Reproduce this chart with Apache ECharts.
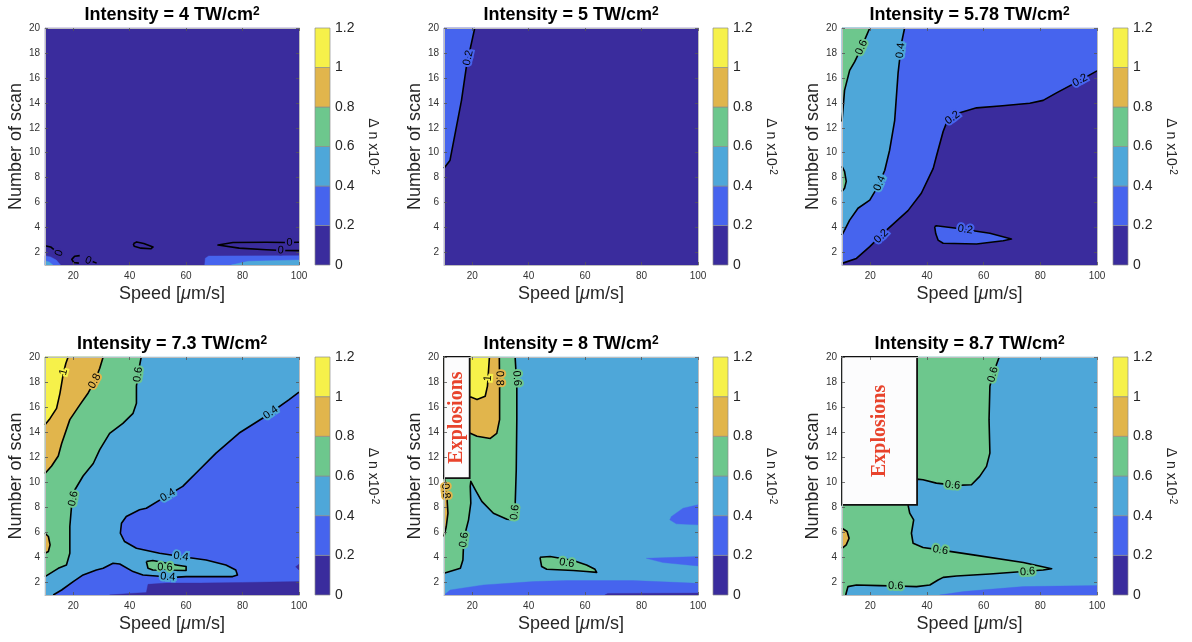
<!DOCTYPE html>
<html><head><meta charset="utf-8">
<script src="https://cdn.jsdelivr.net/npm/echarts@6/dist/echarts.min.js"></script>
<style>html,body{margin:0;padding:0;background:#fff}#c{width:1192px;height:642px}</style>
</head><body><div id="c"></div>
<script>
// ---------- data ----------
const levels = [0, 0.2, 0.4, 0.6, 0.8, 1, 1.2];
const levelLabels = ['0', '0.2', '0.4', '0.6', '0.8', '1', '1.2'];
const intensities = ['4', '5', '5.78', '7.3', '8', '8.7'];
const xTicks = [20, 40, 60, 80, 100];
const yTicks = [2, 4, 6, 8, 10, 12, 14, 16, 18, 20];
const xRange = [10, 100];
const yRange = [1, 20];
const domain = [[10, 1], [100, 1], [100, 20], [10, 20]];

// Panel 1 : 4 TW/cm2
const p1_blueLeft = [[10, 1], [10, 1.75], [12, 1.65], [14, 1.4], [15.5, 1]];
const p1_cyanLeft = [[10, 1], [10, 1.35], [11.5, 1.25], [12.8, 1]];
const p1_blueRight = [[66.6, 1], [66.8, 1.55], [68, 1.72], [100, 1.75], [100, 1]];
const p1_cyanRight = [[76, 1], [82, 1.3], [100, 1.4], [100, 1]];
const p1_c0a = [[10, 2.55], [12, 2.45], [13.6, 2.15], [13.2, 1.9]];
const p1_c0b = [[22.3, 1.75], [20.5, 1.7], [19.5, 1.45], [20.2, 1.2], [22, 1.15]];
const p1_c0c = [[26.6, 1.3], [28.3, 1.15]];
const p1_c0d = [[41.3, 2.7], [42.5, 2.85], [45, 2.72], [48.3, 2.45], [47.5, 2.3], [44, 2.35], [41.6, 2.5], [41.3, 2.7]];
const p1_c0e = [[100, 2.82], [95, 2.8], [88.4, 2.82], [76.6, 2.8], [71.3, 2.6], [78.8, 2.35], [88.4, 2.22], [94, 2.16], [100, 2.15]];
const p1_labels = [[15, 1.95, '0'], [25.3, 1.35, '0'], [96.6, 2.8, '0'], [93.5, 2.17, '0']];

// Panel 2 : 5 TW/cm2
const p2_c02 = [[10, 8.75], [12.1, 9.37], [16.2, 14.2], [18, 17], [20.9, 20]];
const p2_labels = [[18.55, 17.6, '0.2']];

// Panel 3 : 5.78 TW/cm2
const p3_c02 = [[10, 1.13], [15.1, 1.53], [19.8, 2.47], [25.7, 3.8], [33.3, 5.36], [38, 6.75], [42.2, 8.75], [43.3, 9.7], [45.7, 11.7], [46.9, 12.4], [51.6, 13.2], [57.5, 13.6], [65.7, 13.75], [76.3, 13.97], [81, 14.2], [85.7, 14.8], [94, 15.8], [100, 16.56]];
const p3_c02island = [[42.7, 4.07], [43.1, 3.5], [43.9, 3.0], [45.7, 2.74], [57.5, 2.68], [66.9, 2.95], [69.8, 3.08], [62.2, 3.54], [50.4, 3.94], [43.3, 4.15], [42.7, 4.07]];
const p3_c04 = [[10, 3.4], [12.7, 4.6], [15.65, 5.55], [19.8, 6.2], [22.7, 7.3], [25.1, 8.6], [26.8, 10.2], [28.6, 12.6], [29.8, 16.4], [31, 18.8], [32.1, 20]];
const p3_c06 = [[10, 12.5], [10.9, 15], [12.7, 16.6], [14.5, 17.3], [16.2, 18.1], [18, 19.05], [19.8, 20]];
const p3_c06small = [[10, 8.9], [10.9, 8.5], [11.5, 7.7], [10.9, 7.15], [10, 6.9]];
const p3_labels = [[16.9, 18.45, '0.6'], [30.7, 18.2, '0.4'], [23.3, 7.55, '0.4'], [23.9, 3.3, '0.2'], [49, 12.8, '0.2'], [94, 15.8, '0.2'], [53.5, 3.84, '0.2']];

// Panel 4 : 7.3 TW/cm2
const p4_c1 = [[10, 14.6], [11.8, 15.1], [14.1, 15.9], [15.3, 17.1], [16.5, 18.7], [17.4, 19.5], [18.2, 20]];
const p4_c08 = [[10, 10.7], [12.35, 11.3], [14.7, 12.1], [15.9, 13.1], [18.8, 15], [22.4, 16.2], [25.3, 17.13], [27.6, 18.07], [29.4, 19.1], [30.6, 20]];
const p4_c08small = [[10, 5.93], [11.2, 5.67], [11.8, 5.0], [11.2, 4.47], [10, 4.33]];
const p4_c06 = [[10, 2.47], [14.7, 3.13], [17.6, 3.4], [18.8, 4.33], [18.8, 6.47], [19.4, 8.07], [20.6, 9.4], [23.5, 10.5], [27.1, 11.5], [29.4, 12.6], [32.9, 13.9], [37.6, 14.7], [41.2, 15.5], [42.4, 16.3], [42.4, 17.7], [43.5, 19.3], [44.1, 20]];
const p4_c04 = [[100, 17.19], [96.5, 16.6], [88.2, 15.27], [78.8, 13.93], [70.6, 12.33], [64.7, 11], [58.8, 9.67], [51.8, 8.73], [45.9, 7.93], [43.5, 7.8], [38.8, 7.27], [37.1, 6.73], [36.7, 5.93], [38.2, 5.27], [42.4, 4.73], [50.6, 4.33], [60, 4.01], [67.1, 3.8], [74.1, 3.4], [77.6, 3.0], [78.2, 2.6], [76.5, 2.47], [69.4, 2.47], [60, 2.47], [55.3, 2.41], [49.4, 2.52], [44.7, 2.6], [41.2, 2.87], [36.5, 3.48], [34.1, 3.53], [30.6, 3.13], [28.2, 3.0], [23.5, 2.6], [20, 2.07], [15.9, 1.4], [12.9, 1]];
const p4_c06island = [[45.9, 3.67], [46.5, 3.13], [48.2, 3.0], [60, 2.95], [60, 3.27], [56.5, 3.4], [48.2, 3.75], [45.9, 3.67]];
const p4_darkBottom = [[32.9, 1], [40, 1.12], [45.9, 1.19], [46.5, 1.85], [52.9, 1.95], [64.7, 1.95], [80, 2.0], [100, 2.07], [100, 1]];
const p4_darkRight = [[100, 3.45], [98.8, 3.25], [100, 3.0]];
const p4_labels = [[16.6, 18.8, '1'], [27.6, 18.07, '0.8'], [43, 18.6, '0.6'], [20, 8.7, '0.6'], [53.5, 8.96, '0.4'], [90, 15.56, '0.4'], [58.2, 4.07, '0.4'], [52.5, 3.2, '0.6'], [53.5, 2.44, '0.4']];

// Panel 5 : 8 TW/cm2
const p5_c1 = [[10, 16.9], [19.5, 16.8], [21.7, 16.6], [24.6, 16.87], [25.4, 17.67], [25.8, 19], [26.1, 20]];
const p5_c08 = [[10, 13.9], [19.5, 13.9], [21.7, 13.67], [26.4, 13.5], [28.7, 13.9], [29.7, 15], [29.7, 17.67], [29.6, 20]];
const p5_c08small = [[10, 10.6], [11.1, 8.6], [11.4, 7.53], [10.8, 6.47], [10, 5.67]];
const p5_c06 = [[10, 2.73], [15.8, 3.13], [16.7, 3.8], [16.9, 4.87], [17.5, 5.93], [18.7, 7], [19.5, 8.33], [19.3, 9.67], [19.5, 10.07], [21.1, 9.4], [23.4, 8.47], [27.5, 7.53], [32.3, 7.05], [34.6, 7], [35.2, 8.07], [35.6, 11], [35.8, 15], [35.8, 17.67], [35.2, 20]];
const p5_c06island = [[44, 4.01], [44.6, 3.27], [46.4, 3.05], [55.8, 2.95], [60.5, 2.87], [64.1, 2.81], [63.5, 3.05], [60.5, 3.4], [55.8, 3.75], [47.6, 4.07], [44, 4.01]];
const p5_blueBottom = [[10, 1], [12.2, 1.4], [24, 1.8], [41.7, 2.07], [53.5, 2.15], [77, 2.15], [100, 1.93], [100, 1]];
const p5_blueRight1 = [[100, 8.2], [94.7, 7.93], [90.6, 7.27], [90, 7], [92.3, 6.68], [100, 6.6]];
const p5_blueRight2 = [[100, 4.07], [81.7, 3.93], [87.6, 3.59], [100, 3.32]];
const p5_darkBottom = [[67, 1], [68, 1.12], [100, 1.15], [100, 1]];
const p5_box = [10, 20, 19.1, 10.33];
const p5_labels = [[25.6, 18.3, '1'], [29.7, 18.3, '0.8'], [35.8, 18.3, '0.6'], [10.6, 9.3, '0.8'], [35.1, 7.6, '0.6'], [17.1, 5.4, '0.6'], [53.5, 3.55, '0.6']];

// Panel 6 : 8.7 TW/cm2
const p6_c06 = [[65.5, 20], [63.4, 18.7], [62.2, 17.67], [61.9, 15], [62.2, 12.33], [61, 11.27], [58.6, 10.47], [55.7, 9.8], [50.4, 9.75], [43.3, 9.93], [38.6, 10.2], [36.5, 10.25], [35.5, 9.3], [33.3, 8.2], [33.9, 7.53], [35.3, 7.0], [34.5, 5.93], [35.1, 5.13], [38.6, 4.79], [44.5, 4.6], [56.3, 4.2], [74, 3.59], [84, 3.1], [81, 3.0], [74, 2.87], [62.2, 2.68], [50.4, 2.52], [45.7, 2.41], [43.9, 2.2], [41, 1.8], [36.3, 1.67], [29.2, 1.72], [23.3, 1.75], [15.1, 1.8], [12.1, 1.67], [11.3, 1.0]];
const p6_c08small = [[10, 6.33], [11.8, 6.07], [12.5, 5.53], [11.5, 5.0], [10, 4.73]];
const p6_blueBottom = [[44.5, 1], [52.8, 1.27], [62.2, 1.45], [74, 1.67], [100, 1.75], [100, 1]];
const p6_box = [10, 20, 36.5, 8.2];
const p6_labels = [[63.3, 18.6, '0.6'], [49, 9.77, '0.6'], [44.7, 4.58, '0.6'], [75.5, 2.85, '0.6'], [29, 1.72, '0.6']];

// panels: base level, fills [level, polygon], contour lines, labels, explosion box
const panels = [
  { base: 0, fills: [[1, p1_blueLeft], [2, p1_cyanLeft], [1, p1_blueRight], [2, p1_cyanRight]],
    lines: [p1_c0a, p1_c0b, p1_c0c, p1_c0d, p1_c0e], labels: p1_labels, box: null },
  { base: 0, fills: [[1, p2_c02.concat([[10, 20]])]],
    lines: [p2_c02], labels: p2_labels, box: null },
  { base: 1, fills: [[0, p3_c02.concat([[100, 1], [10, 1]])], [1, p3_c02island], [2, p3_c04.concat([[10, 20]])], [3, p3_c06.concat([[10, 20]])], [3, p3_c06small]],
    lines: [p3_c02, p3_c02island, p3_c04, p3_c06, p3_c06small], labels: p3_labels, box: null },
  { base: 2, fills: [[1, p4_c04.concat([[100, 1]])], [0, p4_darkBottom], [0, p4_darkRight], [3, p4_c06island], [3, p4_c06.concat([[10, 20]])], [4, p4_c08.concat([[10, 20]])], [5, p4_c1.concat([[10, 20]])], [4, p4_c08small]],
    lines: [p4_c04, p4_c06island, p4_c06, p4_c08, p4_c1, p4_c08small], labels: p4_labels, box: null },
  { base: 2, fills: [[1, p5_blueBottom], [0, p5_darkBottom], [1, p5_blueRight1], [1, p5_blueRight2], [3, p5_c06.concat([[10, 20]])], [4, p5_c08.concat([[10, 20]])], [5, p5_c1.concat([[10, 20]])], [4, p5_c08small], [3, p5_c06island]],
    lines: [p5_c06, p5_c08, p5_c1, p5_c08small, p5_c06island], labels: p5_labels, box: p5_box },
  { base: 2, fills: [[1, p6_blueBottom], [3, p6_c06.concat([[10, 1], [10, 20]])], [4, p6_c08small]],
    lines: [p6_c06, p6_c08small], labels: p6_labels, box: p6_box }
];

// ---------- styling / layout ----------
const levelColors = ['#3a2c9d', '#4664ee', '#4ea7d9', '#6dc78d', '#e1b54c', '#f6f14a'];
const font = '"Liberation Sans", Arial, Helvetica, sans-serif';
const cols = [{ l: 45, w: 254, cb: 315 }, { l: 444, w: 254, cb: 713 }, { l: 842, w: 255, cb: 1113 }];
const rows = [{ t: 28, h: 237, tt: 6 }, { t: 357, h: 238, tt: 335 }];
const frame = '#bdbdbd';

const grid = [], xAxis = [], yAxis = [], series = [], title = [];

function segDist(p, a, b) {
  const dx = b[0] - a[0], dy = b[1] - a[1];
  const L = dx * dx + dy * dy;
  let t = L ? ((p[0] - a[0]) * dx + (p[1] - a[1]) * dy) / L : 0;
  t = Math.max(0, Math.min(1, t));
  const qx = a[0] + t * dx, qy = a[1] + t * dy;
  return Math.hypot(p[0] - qx, p[1] - qy);
}

panels.forEach((p, i) => {
  const c = cols[i % 3], r = rows[(i / 3) | 0];
  const gi = grid.length;
  grid.push({ left: c.l, top: r.t, width: c.w, height: r.h });
  const xi = xAxis.length, yi = yAxis.length;
  const tick = { show: true, inside: true, length: 3, lineStyle: { color: '#555', width: 0.8 } };
  const line = { show: true, onZero: false, lineStyle: { color: frame, width: 1 } };
  xAxis.push({
    gridIndex: gi, type: 'value', min: xRange[0], max: xRange[1], position: 'bottom', z: 10,
    axisLine: line, axisTick: Object.assign({}, tick, { customValues: xTicks }),
    axisLabel: { customValues: xTicks, fontSize: 10, color: '#333', margin: 6, fontFamily: font },
    splitLine: { show: false },
    name: 'Speed [{i|μ}m/s]', nameLocation: 'middle', nameGap: 20,
    nameTextStyle: { fontSize: 18, color: '#262626', fontFamily: font,
      rich: { i: { fontSize: 18, fontStyle: 'italic', color: '#262626', fontFamily: font } } }
  });
  xAxis.push({
    gridIndex: gi, type: 'value', min: xRange[0], max: xRange[1], position: 'top', z: 10,
    axisLine: line, axisTick: Object.assign({}, tick, { customValues: xTicks }),
    axisLabel: { show: false }, splitLine: { show: false }
  });
  yAxis.push({
    gridIndex: gi, type: 'value', min: yRange[0], max: yRange[1], position: 'left', z: 10,
    axisLine: line, axisTick: Object.assign({}, tick, { customValues: yTicks }),
    axisLabel: { customValues: yTicks, fontSize: 10, color: '#333', margin: 5, fontFamily: font },
    splitLine: { show: false },
    name: 'Number of scan', nameLocation: 'middle', nameGap: 17,
    nameTextStyle: { fontSize: 18, color: '#262626', fontFamily: font }
  });
  yAxis.push({
    gridIndex: gi, type: 'value', min: yRange[0], max: yRange[1], position: 'right', z: 10,
    axisLine: line, axisTick: Object.assign({}, tick, { customValues: yTicks }),
    axisLabel: { show: false }, splitLine: { show: false }
  });

  title.push({
    text: '{t|Intensity = ' + intensities[i] + ' TW/cm}{s|2}',
    left: c.l + c.w / 2, top: r.tt, textAlign: 'center', padding: 0,
    textStyle: { rich: {
      t: { fontSize: 18, fontWeight: 'bold', color: '#000', fontFamily: font },
      s: { fontSize: 12, fontWeight: 'bold', color: '#000', fontFamily: font, verticalAlign: 'top' }
    } }
  });

  // filled contour regions
  const fills = [[p.base, domain]].concat(p.fills);
  series.push({
    type: 'custom', coordinateSystem: 'cartesian2d', xAxisIndex: xi, yAxisIndex: yi,
    z: 1, silent: true, animation: false,
    data: fills.map((f, k) => [f[1][0][0], f[1][0][1], k]), encode: { x: 0, y: 1 },
    renderItem: (params, api) => {
      const f = fills[params.dataIndex];
      return { type: 'polygon', shape: { points: f[1].map(pt => api.coord(pt)) },
        style: { fill: levelColors[f[0]], stroke: levelColors[f[0]], lineWidth: 0.4 } };
    }
  });
  // contour lines
  series.push({
    type: 'custom', coordinateSystem: 'cartesian2d', xAxisIndex: xi, yAxisIndex: yi,
    z: 3, silent: true, animation: false,
    data: p.lines.map((l, k) => [l[0][0], l[0][1], k]), encode: { x: 0, y: 1 },
    renderItem: (params, api) => {
      const l = p.lines[params.dataIndex];
      return { type: 'polyline', shape: { points: l.map(pt => api.coord(pt)) },
        style: { fill: null, stroke: '#000', lineWidth: 1.6, lineJoin: 'round' } };
    }
  });
  // contour labels
  series.push({
    type: 'custom', coordinateSystem: 'cartesian2d', xAxisIndex: xi, yAxisIndex: yi,
    z: 4, silent: true, animation: false,
    data: p.labels.map(lb => [lb[0], lb[1]]), encode: { x: 0, y: 1 },
    renderItem: (params, api) => {
      const lb = p.labels[params.dataIndex];
      const pt = api.coord([lb[0], lb[1]]);
      let best = Infinity, ang = 0;
      p.lines.forEach(l => {
        const px = l.map(q => api.coord(q));
        for (let k = 0; k < px.length - 1; k++) {
          const d = segDist(pt, px[k], px[k + 1]);
          if (d < best) { best = d; ang = Math.atan2(-(px[k + 1][1] - px[k][1]), px[k + 1][0] - px[k][0]); }
        }
      });
      if (best > 7) ang = 0;
      if (ang > Math.PI / 2) ang -= Math.PI;
      if (ang <= -Math.PI / 2) ang += Math.PI;
      const lvl = Math.min(5, Math.round(parseFloat(lb[2]) / 0.2));
      return { type: 'text', x: pt[0], y: pt[1], rotation: ang,
        style: { text: lb[2], x: 0, y: 0, font: '11px ' + font, fill: '#000', align: 'center', verticalAlign: 'middle',
          stroke: levelColors[lvl], lineWidth: 4 } };
    }
  });
  // explosions box
  if (p.box) {
    const b = p.box;
    series.push({
      type: 'custom', coordinateSystem: 'cartesian2d', xAxisIndex: xi, yAxisIndex: yi,
      z: 6, silent: true, animation: false,
      data: [[b[0], b[1], b[2], b[3]]], encode: { x: [0, 2], y: [1, 3] },
      renderItem: (params, api) => {
        const a = api.coord([api.value(0), api.value(1)]);
        const d = api.coord([api.value(2), api.value(3)]);
        return { type: 'group', children: [
          { type: 'rect', shape: { x: a[0], y: a[1], width: d[0] - a[0], height: d[1] - a[1] },
            style: { fill: '#fcfcfd', stroke: '#111', lineWidth: 1.8 } },
          { type: 'text', x: (a[0] + d[0]) / 2, y: (a[1] + d[1]) / 2, rotation: Math.PI / 2,
            style: { text: 'Explosions', x: 0, y: 0, font: 'bold 20px "Liberation Serif", "Times New Roman", serif',
              fill: '#e8432c', align: 'center', verticalAlign: 'middle' } }
        ] };
      }
    });
  }

  // colorbar
  const cg = grid.length;
  grid.push({ left: c.cb, top: r.t, width: 15, height: r.h });
  const cx = xAxis.length, cy = yAxis.length;
  xAxis.push({ gridIndex: cg, type: 'value', min: 0, max: 1, show: false });
  yAxis.push({
    gridIndex: cg, type: 'value', min: levels[0], max: levels[levels.length - 1], interval: 0.2, position: 'right',
    axisLine: { show: false }, axisTick: { show: false }, splitLine: { show: false },
    axisLabel: { fontSize: 14, color: '#262626', margin: 5, fontFamily: font,
      formatter: v => levelLabels[Math.round(v / 0.2)] },
    name: '{d|Δ n x10}{s|-2}', nameLocation: 'middle', nameRotate: -90, nameGap: 36,
    nameTextStyle: { rich: {
      d: { fontSize: 14, color: '#262626', fontFamily: font },
      s: { fontSize: 10, color: '#262626', fontFamily: font, verticalAlign: 'top' } } }
  });
  series.push({
    type: 'custom', coordinateSystem: 'cartesian2d', xAxisIndex: cx, yAxisIndex: cy,
    z: 2, silent: true, animation: false,
    data: levelColors.map((col, k) => [0, levels[k], levels[k + 1], k]), encode: { x: 0, y: [1, 2] },
    renderItem: (params, api) => {
      const lo = api.value(1), hi = api.value(2), k = api.value(3);
      const a = api.coord([0, hi]), d = api.coord([1, lo]);
      return { type: 'rect', shape: { x: a[0], y: a[1], width: d[0] - a[0], height: d[1] - a[1] },
        style: { fill: levelColors[k], stroke: '#8c8c8c', lineWidth: 0.7 } };
    }
  });
});

const chart = echarts.init(document.getElementById('c'), null, { renderer: 'canvas' });
chart.setOption({ animation: false, backgroundColor: '#fff', title, grid, xAxis, yAxis, series });
</script>
</body></html>
